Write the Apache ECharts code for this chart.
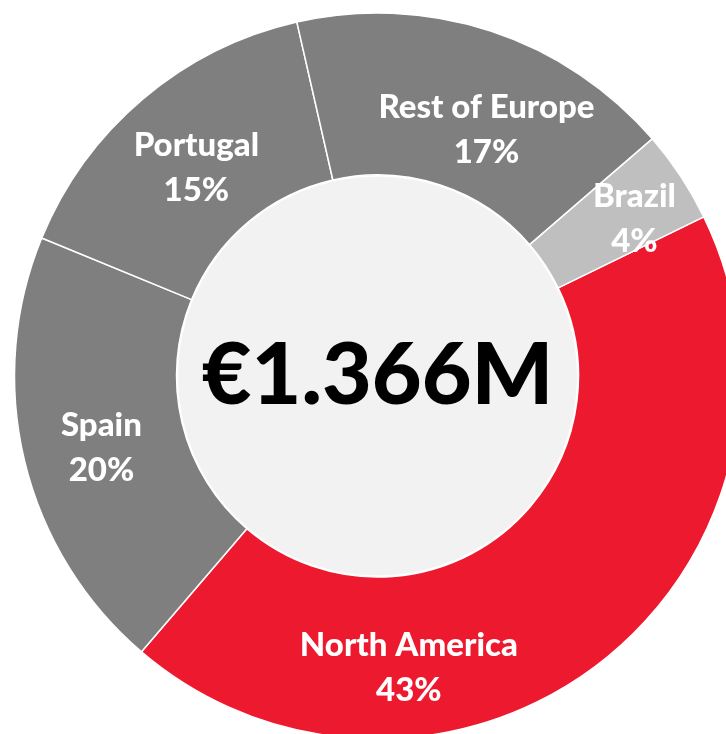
<!DOCTYPE html>
<html>
<head>
<meta charset="utf-8">
<script src="https://cdn.jsdelivr.net/npm/echarts@6/dist/echarts.min.js"></script>
<style>
  html, body { margin: 0; padding: 0; background: #ffffff; }
  #chart { width: 726px; height: 734px; }
</style>
</head>
<body>
<div id="chart"></div>
<script>
// ---- data ----
const regions = ['North America', 'Spain', 'Portugal', 'Rest of Europe', 'Brazil'];
const shares = [43.4, 19.9, 15.2, 17.2, 4.1];
const totalLabel = '€1.366M';

// ---- style ----
const sliceColors = ['#ED1A2F', '#7F7F7F', '#7F7F7F', '#7F7F7F', '#BFBFBF'];
const labelShift = [[-143, 66], [1, 5], [3, 9], [20, 25], [19, 0]];
const FONT = 'Lato, "Open Sans", sans-serif';

const chart = echarts.init(document.getElementById('chart'), null, { renderer: 'canvas' });

chart.setOption({
  backgroundColor: '#ffffff',
  animation: false,
  series: [
    {
      type: 'pie',
      silent: true,
      center: [377.5, 376],
      radius: [0, 200],
      itemStyle: { color: '#F2F2F2', borderColor: '#ffffff', borderWidth: 1 },
      label: {
        show: true,
        position: 'center',
        formatter: function () { return totalLabel; },
        color: '#000000',
        fontFamily: FONT,
        fontWeight: 900,
        fontSize: 86
      },
      labelLine: { show: false },
      data: [{ name: 'total', value: 1 }]
    },
    {
      type: 'pie',
      silent: true,
      center: [377.5, 376],
      radius: [201, 363],
      startAngle: 26,
      clockwise: true,
      avoidLabelOverlap: false,
      itemStyle: { borderColor: '#ffffff', borderWidth: 1.5 },
      label: {
        show: true,
        position: 'inside',
        color: '#ffffff',
        fontFamily: FONT,
        fontWeight: 900,
        fontSize: 33,
        lineHeight: 45,
        align: 'center',
        formatter: function (p) { return p.name + '\n' + Math.round(p.value) + '%'; }
      },
      labelLine: { show: false },
      labelLayout: function (params) {
        const s = labelShift[params.dataIndex];
        return { dx: s[0], dy: s[1] };
      },
      data: regions.map(function (r, i) {
        return { name: r, value: shares[i], itemStyle: { color: sliceColors[i] } };
      })
    }
  ]
});
</script>
</body>
</html>
